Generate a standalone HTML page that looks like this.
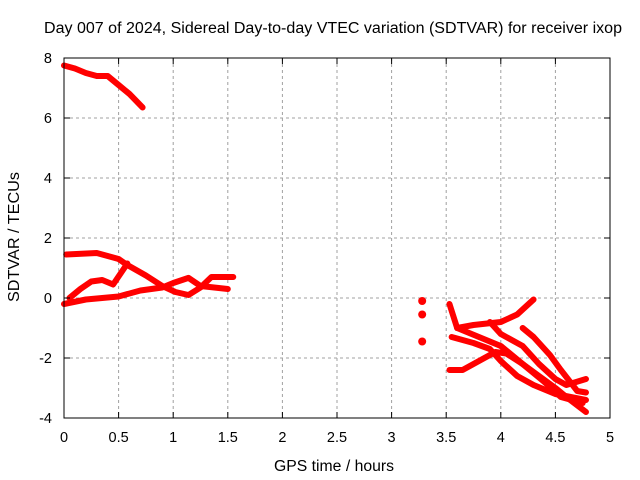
<!DOCTYPE html>
<html><head><meta charset="utf-8"><style>
html,body{margin:0;padding:0;background:#fff;}
svg{display:block;font-family:"Liberation Sans",sans-serif;}
</style></head><body>
<svg id="chart" width="640" height="480" viewBox="0 0 640 480">
<text x="333" y="33" font-size="15.5" text-anchor="middle" textLength="578" lengthAdjust="spacingAndGlyphs">Day 007 of 2024, Sidereal Day-to-day VTEC variation (SDTVAR) for receiver ixop</text>
<g id="grid"></g>
<g id="series"></g>
<rect x="64" y="58" width="546" height="360" fill="none" stroke="#000" stroke-width="1"/>
<g id="ticks"></g>
<text x="334" y="471" font-size="15.5" text-anchor="middle" textLength="120" lengthAdjust="spacingAndGlyphs">GPS time / hours</text>
<text transform="translate(19,237) rotate(-90)" font-size="15.5" text-anchor="middle" textLength="130" lengthAdjust="spacingAndGlyphs">SDTVAR / TECUs</text>
</svg>
<script>
const xTicks = [0,0.5,1,1.5,2,2.5,3,3.5,4,4.5,5];
const xTickLabels = ["0","0.5","1","1.5","2","2.5","3","3.5","4","4.5","5"];
const yTicks = [-4,-2,0,2,4,6,8];
const yTickLabels = ["-4","-2","0","2","4","6","8"];
const series1 = [[0,7.75],[0.1,7.65],[0.2,7.5],[0.3,7.4],[0.4,7.4],[0.5,7.1],[0.6,6.8],[0.72,6.35]];
const series2 = [[0.02,1.45],[0.3,1.5],[0.5,1.3],[0.58,1.1],[0.75,0.75],[0.9,0.4],[1.02,0.2],[1.14,0.1],[1.25,0.35],[1.35,0.7],[1.55,0.7]];
const series3 = [[0.05,0.0],[0.15,0.3],[0.25,0.55],[0.35,0.6],[0.45,0.45],[0.58,1.15]];
const series4 = [[0,-0.2],[0.2,-0.05],[0.5,0.05],[0.7,0.25],[0.9,0.35],[1.0,0.5],[1.14,0.67],[1.25,0.4],[1.5,0.3]];
const series5 = [[3.53,-2.4],[3.65,-2.4],[3.8,-2.1],[3.95,-1.8],[4.05,-1.85],[4.2,-2.2],[4.35,-2.6],[4.5,-3.0],[4.6,-3.3],[4.78,-3.8]];
const series6 = [[3.53,-0.2],[3.6,-1.0],[3.75,-0.9],[4.0,-0.8],[4.15,-0.55],[4.3,-0.05]];
const series7 = [[3.55,-1.3],[3.75,-1.5],[3.9,-1.7],[4.0,-2.1],[4.15,-2.6],[4.3,-2.9],[4.5,-3.2],[4.78,-3.4]];
const series8 = [[3.9,-0.8],[4.0,-1.2],[4.2,-1.6],[4.35,-2.2],[4.5,-2.7],[4.6,-2.9],[4.78,-2.7]];
const series9 = [[4.2,-1.0],[4.3,-1.3],[4.45,-1.9],[4.55,-2.4],[4.7,-3.1],[4.78,-3.15]];
const series10 = [[3.6,-1.0],[3.8,-1.3],[4.0,-1.6],[4.2,-2.2],[4.4,-2.8],[4.55,-3.3],[4.75,-3.5]];
const blobs = [[3.28,-0.1],[3.28,-0.55],[3.28,-1.45]];
const allSeries = [series1,series2,series3,series4,series5,series6,series7,series8,series9,series10];

const NS="http://www.w3.org/2000/svg";
const X0=64,X1=610,Y0=418,Y1=58;
function sx(h){return X0+(h-0)/(5-0)*(X1-X0);}
function sy(v){return Y0-(v+4)/(12)*(Y0-Y1);}
function mk(tag,attrs,parent){const e=document.createElementNS(NS,tag);for(const k in attrs)e.setAttribute(k,attrs[k]);parent.appendChild(e);return e;}
const grid=document.getElementById('grid'),ticks=document.getElementById('ticks'),ser=document.getElementById('series');
xTicks.forEach((t,i)=>{
  const x=sx(t);
  if(i>0&&i<xTicks.length-1){const g=mk('line',{x1:x,x2:x,y1:Y1,y2:Y0,stroke:'#a0a0a0','stroke-dasharray':'3,3'},grid);
  
  }
  const l=mk('line',{x1:x,x2:x,y1:Y0,y2:Y0-6,stroke:'#000'},ticks);
  
  
  const l2=mk('line',{x1:x,x2:x,y1:Y1,y2:Y1+6,stroke:'#000'},ticks);
  
  
  const tx=mk('text',{x:x,y:442,'font-size':14.5,'text-anchor':'middle'},ticks);tx.textContent=xTickLabels[i];
  
  
});
yTicks.forEach((t,i)=>{
  const y=sy(t);
  if(i>0&&i<yTicks.length-1){const g=mk('line',{x1:X0,x2:X1,y1:y,y2:y,stroke:'#a0a0a0','stroke-dasharray':'3,3'},grid);
  
  }
  const l=mk('line',{x1:X0,x2:X0+6,y1:y,y2:y,stroke:'#000'},ticks);
  
  
  const l2=mk('line',{x1:X1,x2:X1-6,y1:y,y2:y,stroke:'#000'},ticks);
  
  
  const tx=mk('text',{x:52,y:y+5,'font-size':14.5,'text-anchor':'end'},ticks);tx.textContent=yTickLabels[i];
  
  
});
allSeries.forEach((s,i)=>{
  const p=mk('polyline',{points:s.map(d=>sx(d[0])+','+sy(d[1])).join(' '),fill:'none',stroke:'#ff0000','stroke-width':6,'stroke-linejoin':'round','stroke-linecap':'round'},ser);
  
  
});
blobs.forEach(d=>{
  const c=mk('circle',{cx:sx(d[0]),cy:sy(d[1]),r:4,fill:'#ff0000'},ser);
  
  
});
</script>
</body></html>
